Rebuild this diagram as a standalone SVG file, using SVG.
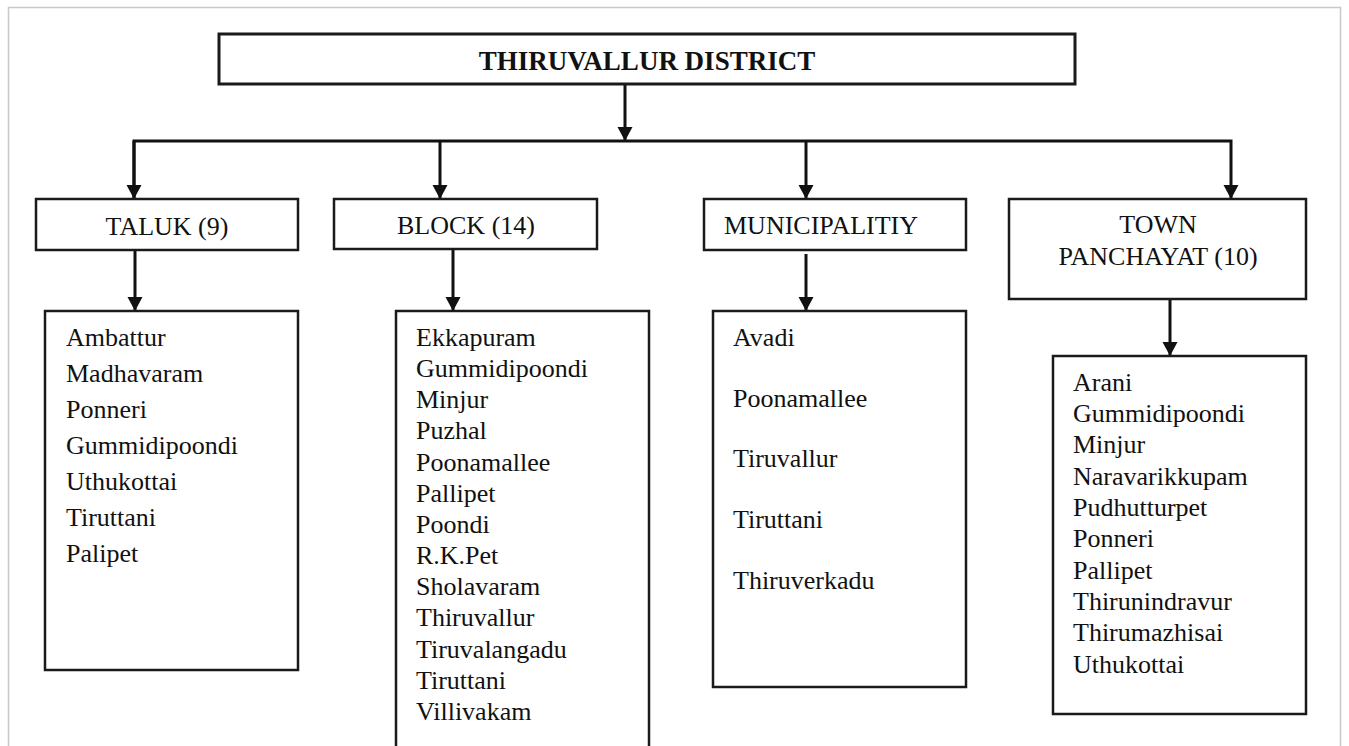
<svg xmlns="http://www.w3.org/2000/svg" width="1349" height="746" viewBox="0 0 1349 746">
<style>
.box{fill:#fff;stroke:#1a1a1a;stroke-width:2.5}
.ttl{fill:#fff;stroke:#1a1a1a;stroke-width:3}
.con{fill:none;stroke:#111;stroke-width:3}
text{font-family:"Liberation Serif","Times New Roman",serif;fill:#111}
.lbl{font-size:26px}
.lst{font-size:26px}
.hd{font-size:27px;font-weight:bold}
</style>
<defs>
<marker id="ah" markerUnits="userSpaceOnUse" markerWidth="16" markerHeight="16" refX="14" refY="7.5" orient="auto">
<path d="M0,0 L14,7.5 L0,15 z" fill="#111"/>
</marker>
</defs>
<rect x="8.5" y="7.5" width="1332" height="760" fill="#fff" stroke="#c8c8c8" stroke-width="1.5"/>

<g id="connectors">
<line class="con" x1="625" y1="84" x2="625" y2="141" marker-end="url(#ah)"/>
<polyline class="con" points="134,199 134,141 1231,141 1231,199" marker-end="url(#ah)"/>
<line class="con" x1="134" y1="141" x2="134" y2="199" marker-end="url(#ah)"/>
<line class="con" x1="440" y1="141" x2="440" y2="199" marker-end="url(#ah)"/>
<line class="con" x1="806" y1="141" x2="806" y2="199" marker-end="url(#ah)"/>
<line class="con" x1="135" y1="251" x2="135" y2="311" marker-end="url(#ah)"/>
<line class="con" x1="453" y1="249" x2="453" y2="311" marker-end="url(#ah)"/>
<line class="con" x1="806" y1="254" x2="806" y2="311" marker-end="url(#ah)"/>
<line class="con" x1="1170" y1="299" x2="1170" y2="356" marker-end="url(#ah)"/>
</g>

<g id="district">
<rect class="ttl" x="219" y="34" width="856" height="50"/>
<text class="hd" x="647" y="70" text-anchor="middle">THIRUVALLUR DISTRICT</text>
</g>

<g id="taluk">
<rect class="box" x="36" y="199" width="262" height="51"/>
<text class="lbl" x="167" y="235" text-anchor="middle">TALUK (9)</text>
</g>
<g id="block">
<rect class="box" x="334" y="199" width="263" height="50"/>
<text class="lbl" x="466" y="234" text-anchor="middle">BLOCK (14)</text>
</g>
<g id="municipality">
<rect class="box" x="704" y="199" width="262" height="51"/>
<text class="lbl" x="724" y="234">MUNICIPALITIY</text>
</g>
<g id="town">
<rect class="box" x="1009" y="199" width="297" height="100"/>
<text class="lbl" x="1158" y="233" text-anchor="middle">TOWN</text>
<text class="lbl" x="1158" y="265" text-anchor="middle">PANCHAYAT (10)</text>
</g>

<g id="taluk-list">
<rect class="box" x="45" y="311" width="253" height="359"/>
<text class="lst" x="66" y="346">Ambattur</text>
<text class="lst" x="66" y="382">Madhavaram</text>
<text class="lst" x="66" y="418">Ponneri</text>
<text class="lst" x="66" y="454">Gummidipoondi</text>
<text class="lst" x="66" y="490">Uthukottai</text>
<text class="lst" x="66" y="526">Tiruttani</text>
<text class="lst" x="66" y="562">Palipet</text>
</g>

<g id="block-list">
<rect class="box" x="396" y="311" width="253" height="460"/>
<text class="lst" x="416" y="346">Ekkapuram</text>
<text class="lst" x="416" y="377">Gummidipoondi</text>
<text class="lst" x="416" y="408">Minjur</text>
<text class="lst" x="416" y="439">Puzhal</text>
<text class="lst" x="416" y="471">Poonamallee</text>
<text class="lst" x="416" y="502">Pallipet</text>
<text class="lst" x="416" y="533">Poondi</text>
<text class="lst" x="416" y="564">R.K.Pet</text>
<text class="lst" x="416" y="595">Sholavaram</text>
<text class="lst" x="416" y="626">Thiruvallur</text>
<text class="lst" x="416" y="658">Tiruvalangadu</text>
<text class="lst" x="416" y="689">Tiruttani</text>
<text class="lst" x="416" y="720">Villivakam</text>
</g>

<g id="municipality-list">
<rect class="box" x="713" y="311" width="253" height="376"/>
<text class="lst" x="733" y="346">Avadi</text>
<text class="lst" x="733" y="407">Poonamallee</text>
<text class="lst" x="733" y="467">Tiruvallur</text>
<text class="lst" x="733" y="528">Tiruttani</text>
<text class="lst" x="733" y="589">Thiruverkadu</text>
</g>

<g id="town-list">
<rect class="box" x="1053" y="356" width="253" height="358"/>
<text class="lst" x="1073" y="391">Arani</text>
<text class="lst" x="1073" y="422">Gummidipoondi</text>
<text class="lst" x="1073" y="453">Minjur</text>
<text class="lst" x="1073" y="485">Naravarikkupam</text>
<text class="lst" x="1073" y="516">Pudhutturpet</text>
<text class="lst" x="1073" y="547">Ponneri</text>
<text class="lst" x="1073" y="579">Pallipet</text>
<text class="lst" x="1073" y="610">Thirunindravur</text>
<text class="lst" x="1073" y="641">Thirumazhisai</text>
<text class="lst" x="1073" y="673">Uthukottai</text>
</g>
</svg>
